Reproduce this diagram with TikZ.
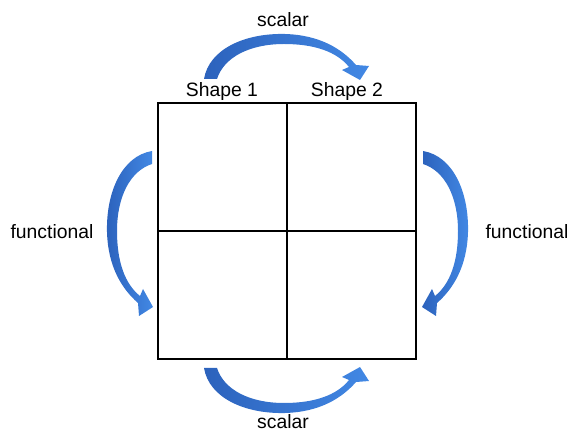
\documentclass[tikz,border=0pt]{standalone}
\usepackage{fontspec}
\setmainfont{Liberation Sans}
\usetikzlibrary{positioning}

\definecolor{arrowdark}{RGB}{44,98,188}
\definecolor{arrowlight}{RGB}{66,136,228}

% curved, tapering block arrow; base at the origin, head at (150,0), bulging up
\newcommand{\bendarrow}{%
  \shade[left color=arrowdark,right color=arrowlight,draw=none]
    (-6,0) .. controls (-1,30) and (35,46) .. (75,45)
    .. controls (110,44) and (132,30) .. (146,14)
    -- (159,13) -- (150,-1) -- (132,9) -- (139,12)
    .. controls (127,27) and (105,35) .. (74,35)
    .. controls (40,35) and (14,22) .. (7,0) -- cycle;}

\begin{document}
\begin{tikzpicture}[x=0.75pt,y=0.75pt,font=\fontsize{14.5}{17}\selectfont,
  gridline/.style={line width=1.5pt,black},
  label/.style={inner sep=0pt,anchor=center}]
\useasboundingbox (0,0) rectangle (571,432);

% the 2x2 table
\draw[gridline] (158,73) rectangle (416,329);
\draw[gridline] (287,73) -- (287,329);
\draw[gridline] (158,201) -- (416,201);

\node[label] (shp1) at (222,340){Shape 1};
\node[label] (shp2) at (347,340){Shape 2};

% arrows round the table
\begin{scope}[shift={(210,353)}]\bendarrow\end{scope}
\begin{scope}[shift={(210,64)},yscale=-1]\bendarrow\end{scope}
\begin{scope}[shift={(152,275)},rotate=90,xscale=-1]\bendarrow\end{scope}
\begin{scope}[shift={(423,275)},rotate=-90]\bendarrow\end{scope}

\node[label] (sctop) at (283,412){scalar};
\node[label] (scbot) at (283,10){scalar};
\node[label] (fnlft) at (52,200){functional};
\node[label] (fnrgt) at (527,200){functional};
\end{tikzpicture}
\end{document}
